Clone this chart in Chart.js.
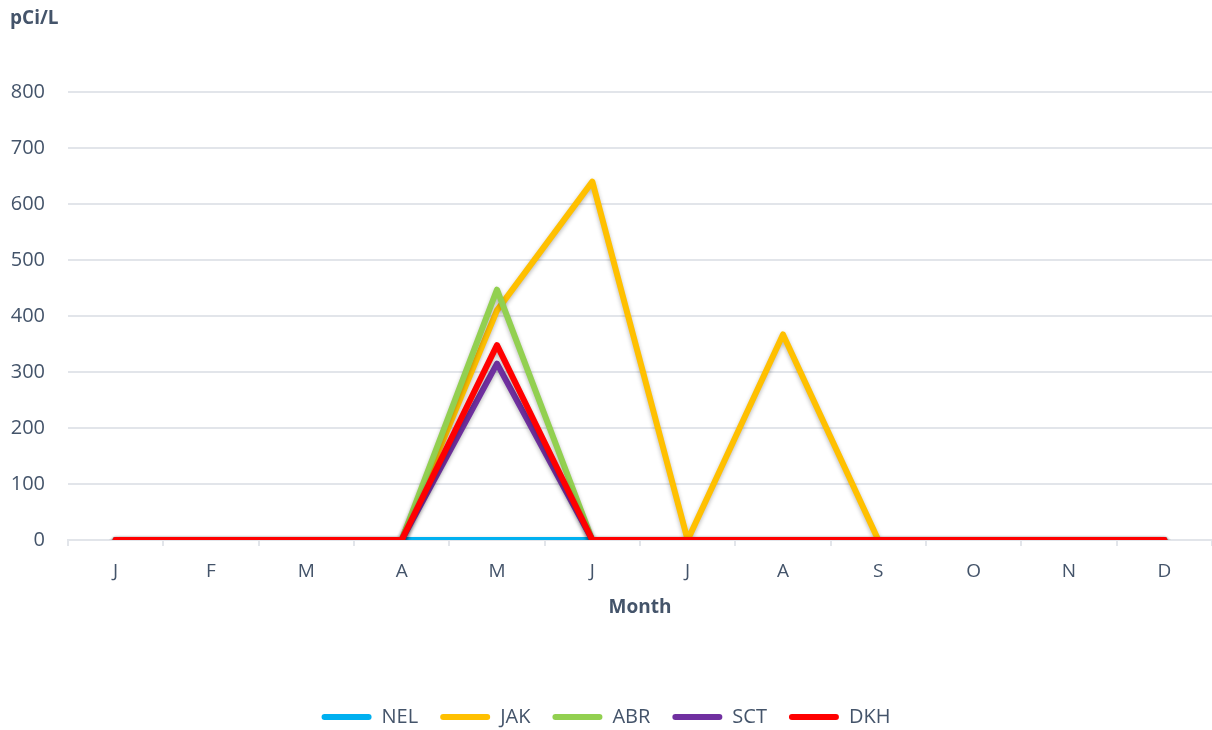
<!DOCTYPE html>
<html>
<head>
<meta charset="utf-8">
<script src="https://cdn.jsdelivr.net/npm/chart.js@4.4.0/dist/chart.umd.min.js"></script>
<style>
  html, body { margin: 0; padding: 0; background: #fff; }
  #wrap { width: 1212px; height: 730px; }
</style>
</head>
<body>
<div id="wrap"><canvas id="radonChart" width="1212" height="730"></canvas></div>
<script>
// monthly values, pCi/L
const months = ["J", "F", "M", "A", "M", "J", "J", "A", "S", "O", "N", "D"];
const nel = [0, 0, 0, 0, 0, 0, 0, 0, 0, 0, 0, 0];
const jak = [0, 0, 0, 0, 410, 640, 0, 367, 0, 0, 0, 0];
const abr = [0, 0, 0, 0, 447, 0, 0, 0, 0, 0, 0, 0];
const sct = [0, 0, 0, 0, 315, 0, 0, 0, 0, 0, 0, 0];
const dkh = [0, 0, 0, 0, 348, 0, 0, 0, 0, 0, 0, 0];
const yTicks = [0, 100, 200, 300, 400, 500, 600, 700, 800];

const textColor = "#44546A";
const gridColor = "#e2e5ea";
const font = "'Open Sans', 'Noto Sans', sans-serif";

function serie(label, values, color, order) {
  return {
    label: label,
    data: values,
    borderColor: color,
    backgroundColor: color,
    borderWidth: 6,
    borderCapStyle: "round",
    borderJoinStyle: "round",
    pointRadius: 0,
    tension: 0,
    order: order
  };
}

// soft shadow under every line, like the original
const lineShadow = {
  id: "lineShadow",
  beforeDatasetDraw(chart) {
    const c = chart.ctx;
    c.save();
    c.shadowColor = "rgba(0,0,0,0.28)";
    c.shadowBlur = 4;
    c.shadowOffsetY = 2;
  },
  afterDatasetDraw(chart) {
    chart.ctx.restore();
  }
};

// unit label in the top-left corner
const unitLabel = {
  id: "unitLabel",
  afterDraw(chart) {
    const c = chart.ctx;
    c.save();
    c.font = "bold 19px " + font;
    c.fillStyle = textColor;
    c.textAlign = "left";
    c.textBaseline = "middle";
    c.fillText("pCi/L", 10, 19);
    c.restore();
  }
};

new Chart(document.getElementById("radonChart"), {
  type: "line",
  data: {
    labels: months,
    datasets: [
      serie("NEL", nel, "#00B0F0", 5),
      serie("JAK", jak, "#FFC000", 4),
      serie("ABR", abr, "#92D050", 3),
      serie("SCT", sct, "#7030A0", 2),
      serie("DKH", dkh, "#FF0000", 1)
    ]
  },
  options: {
    responsive: false,
    animation: false,
    layout: { padding: { top: 92, right: 0, bottom: -7, left: 0 } },
    plugins: {
      legend: {
        position: "bottom",
        labels: {
          color: textColor,
          font: { family: font, size: 20 },
          boxWidth: 50,
          boxHeight: 6,
          padding: 22,
          useBorderRadius: true,
          borderRadius: 3,
          sort: (a, b) => a.datasetIndex - b.datasetIndex,
          generateLabels(chart) {
            return Chart.defaults.plugins.legend.labels.generateLabels(chart)
              .map(item => Object.assign(item, { lineWidth: 0 }));
          }
        }
      },
      tooltip: { enabled: false }
    },
    scales: {
      x: {
        offset: true,
        grid: {
          offset: true,
          drawOnChartArea: false,
          drawTicks: true,
          tickLength: 6,
          color: gridColor,
          lineWidth: 2
        },
        border: { display: true, color: gridColor, width: 2 },
        ticks: {
          color: textColor,
          font: { family: font, size: 19 },
          padding: 14,
          maxRotation: 0
        },
        title: {
          display: true,
          text: "Month",
          color: textColor,
          font: { family: font, size: 19, weight: "bold" },
          padding: { top: 0, bottom: 66 }
        },
        afterFit(scale) { scale.height = 145; }
      },
      y: {
        min: 0,
        max: 800,
        afterBuildTicks(scale) { scale.ticks = yTicks.map(v => ({ value: v })); },
        grid: { drawTicks: false, color: gridColor, lineWidth: 2 },
        border: { display: false },
        ticks: {
          color: textColor,
          font: { family: font, size: 20 },
          padding: 23
        },
        afterFit(scale) { scale.width = 68; }
      }
    }
  },
  plugins: [lineShadow, unitLabel]
});
</script>
</body>
</html>
